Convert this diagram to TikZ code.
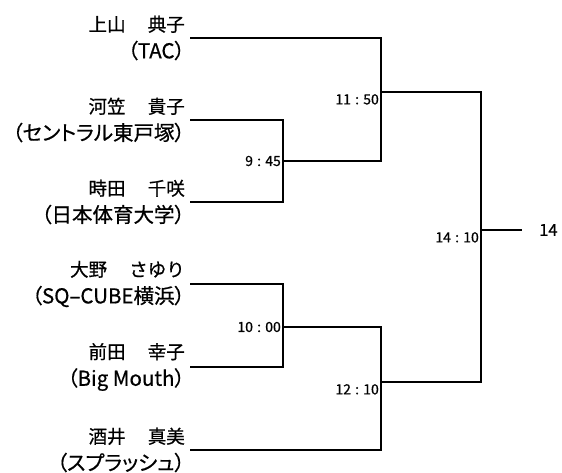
\documentclass[tikz,border=0pt]{standalone}
\usepackage{fontspec}
\setmainfont{Noto Sans CJK JP}[FakeBold=0.6]
\newfontfamily\clubfont{Noto Sans CJK JP}[RawFeature=+palt, FakeBold=0.6]
\usetikzlibrary{positioning}

\newcommand\scoretxt[2]{#1\hspace{0.3em}:\hspace{0.3em}#2}
\newcommand\pname[2]{#1\hspace{1.2em}#2}
\newcommand\club[1]{{\clubfont\fontsize{20.5}{27}\selectfont （#1）}}

\tikzset{
  player/.style={anchor=east, align=right, inner sep=0pt,
    font=\fontsize{18.5}{27}\selectfont},
  score/.style={inner sep=2pt, font=\fontsize{14}{16}\selectfont},
  champ/.style={anchor=west, inner sep=0pt, font=\fontsize{16.5}{18}\selectfont},
  bracket/.style={line width=1.3pt}
}

\begin{document}
\begin{tikzpicture}[x=1pt,y=-1pt]
\useasboundingbox (0,0) rectangle (562,473);
% players
\node[player] (kamiyama) at (185,38)  {\pname{上山}{典子}\\\club{TAC}};
\node[player] (kawakasa) at (185,120) {\pname{河笠}{貴子}\\\club{セントラル東戸塚}};
\node[player] (tokita)   at (185,202) {\pname{時田}{千咲}\\\club{日本体育大学}};
\node[player] (ono)      at (185,284) {\pname{大野}{さゆり}\\\club{SQ–CUBE横浜}};
\node[player] (maeda)    at (185,367) {\pname{前田}{幸子}\\\club{Big Mouth}};
\node[player] (sakai)    at (185,450) {\pname{酒井}{真美}\\\club{スプラッシュ}};
% joints
\coordinate (m1) at (283,161);
\coordinate (m2) at (283,327);
\coordinate (s1) at (381,92);
\coordinate (s2) at (381,382);
\coordinate (f)  at (481,230);
\coordinate (fend) at (522,230);
% brackets
\draw[bracket] ([xshift=5pt]kawakasa.east) -| (m1) |- ([xshift=5pt]tokita.east);
\draw[bracket] ([xshift=5pt]kamiyama.east) -| (s1) |- (m1);
\draw[bracket] ([xshift=5pt]ono.east) -| (m2) |- ([xshift=5pt]maeda.east);
\draw[bracket] (m2) -| (s2) |- ([xshift=5pt]sakai.east);
\draw[bracket] (s1) -| (f) |- (s2);
\draw[bracket] (f) -- (fend);
% times
\node[score, anchor=east] (t1) at (m1) {\scoretxt{9}{45}};
\node[score, anchor=east] (t2) at (m2) {\scoretxt{10}{00}};
\node[score, anchor=north east] (t3) at (s1) {\scoretxt{11}{50}};
\node[score, anchor=north east] (t4) at (s2) {\scoretxt{12}{10}};
\node[score, anchor=north east] (t5) at (f)  {\scoretxt{14}{10}};
\node[champ] (winner) at (539,230) {14};
\end{tikzpicture}
\end{document}
